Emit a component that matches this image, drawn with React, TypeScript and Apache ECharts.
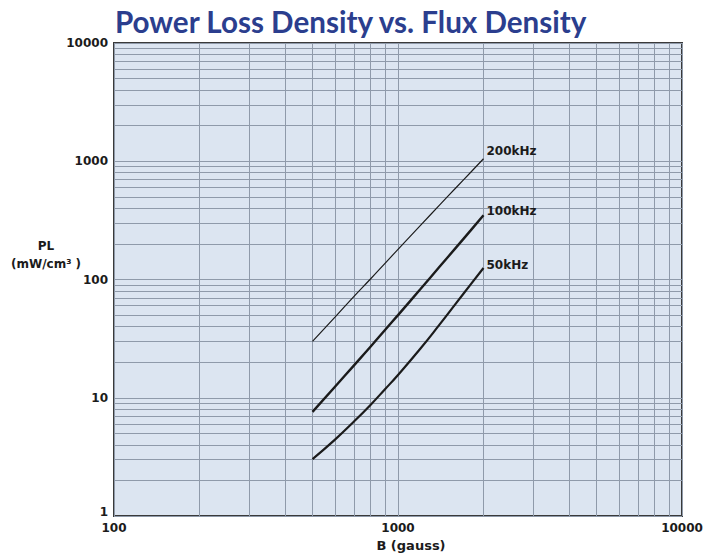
import React, { useEffect, useRef } from "react";
import * as echarts from "echarts";

// Flux density (gauss) sample points along the curves
const B_GAUSS = [500, 600, 700, 800, 900, 1000, 1200, 1400, 1600, 1800, 2000];
// Power loss density (mW/cm³) per frequency
const PL_200KHZ = [30, 48, 72, 101, 137, 180, 287, 425, 597, 803, 1050];
const PL_100KHZ = [7.6, 12.4, 18.8, 27, 37.4, 50, 83, 128, 186, 259, 350];
const PL_50KHZ = [3.03, 4.43, 6.3, 8.7, 11.8, 15.6, 26.1, 41.5, 62.8, 90.5, 125];
const SERIES_NAMES = ["200kHz", "100kHz", "50kHz"];

// Minor log grid lines
const MINOR_X = [200, 300, 400, 500, 600, 700, 800, 900, 2000, 3000, 4000, 5000, 6000, 7000, 8000, 9000];
const MINOR_Y = [
  2, 3, 4, 5, 6, 7, 8, 9,
  20, 30, 40, 50, 60, 70, 80, 90,
  200, 300, 400, 500, 600, 700, 800, 900,
  2000, 3000, 4000, 5000, 6000, 7000, 8000, 9000,
];

const TEXT_FONT = "DejaVu Sans";
const GRID_COLOR = "#8f9aaa";

export default function App() {
  const ref = useRef<HTMLDivElement>(null);

  useEffect(() => {
    document.body.style.margin = "0";
    if (!ref.current) return;
    const chart = echarts.init(ref.current, undefined, { renderer: "svg" });

    const pairs = (ys: number[]) => B_GAUSS.map((b, i) => [b, ys[i]]);
    const curveData = [PL_200KHZ, PL_100KHZ, PL_50KHZ];
    const widths = [1.2, 2.4, 2.2];
    const labelOffsets = [-8, -4, -3];

    const curveSeries = curveData.map((ys, i) => ({
      name: SERIES_NAMES[i],
      type: "line",
      data: pairs(ys),
      smooth: true,
      showSymbol: false,
      z: 10,
      lineStyle: { color: "#1b1b1b", width: widths[i] },
      endLabel: {
        show: true,
        formatter: "{a}",
        distance: 3,
        offset: [0, labelOffsets[i]],
        color: "#1b1b1b",
        fontFamily: TEXT_FONT,
        fontWeight: "bold",
        fontSize: 12,
      },
    }));

    const labelFont = {
      fontFamily: TEXT_FONT,
      fontWeight: "bold",
      fontSize: 12,
      color: "#1b1b1b",
    };

    const option: any = {
      animation: false,
      title: {
        text: "Power Loss Density vs. Flux Density",
        left: 110,
        top: 1,
        textStyle: {
          fontFamily: "Lato",
          fontWeight: "bold",
          fontSize: 29.6,
          color: "#2b3e8e",
        },
      },
      graphic: [
        {
          type: "text",
          x: 46,
          y: 255,
          silent: true,
          style: {
            text: "PL\n(mW/cm³ )",
            align: "center",
            verticalAlign: "middle",
            lineHeight: 18.6,
            fontFamily: TEXT_FONT,
            fontWeight: "bold",
            fontSize: 12,
            fill: "#1b1b1b",
          },
        },
      ],
      grid: {
        left: 114,
        right: 33,
        top: 43,
        bottom: 41,
        outerBoundsMode: "none",
        containLabel: false,
        show: true,
        backgroundColor: "#dce5f1",
        borderColor: "#3a3a3a",
        borderWidth: 2,
      },
      xAxis: {
        type: "log",
        logBase: 10,
        min: 100,
        max: 10000,
        name: "B (gauss)",
        nameLocation: "middle",
        nameGap: 21,
        nameTextStyle: {
          fontFamily: TEXT_FONT,
          fontWeight: "bold",
          fontSize: 13,
          color: "#1b1b1b",
          padding: [0, 0, 0, 26],
        },
        axisLine: { show: false },
        axisTick: { show: false },
        axisLabel: {
          margin: 6,
          ...labelFont,
          formatter: (v: number) => String(Math.round(v)),
        },
        splitLine: { show: true, lineStyle: { color: GRID_COLOR, width: 1 } },
      },
      yAxis: {
        type: "log",
        logBase: 10,
        min: 1,
        max: 10000,
        axisLine: { show: false },
        axisTick: { show: false },
        axisLabel: {
          margin: 6,
          ...labelFont,
          formatter: (v: number) => {
            const s = String(Math.round(v));
            return Math.round(v) === 1 ? "{low|" + s + "}" : s;
          },
          rich: {
            low: { ...labelFont, padding: [0, 0, 8, 0] },
          },
        },
        splitLine: { show: true, lineStyle: { color: GRID_COLOR, width: 1 } },
      },
      series: [
        {
          name: "minor-grid",
          type: "line",
          data: [],
          silent: true,
          markLine: {
            silent: true,
            z: 1,
            symbol: ["none", "none"],
            label: { show: false },
            lineStyle: { color: GRID_COLOR, width: 1, type: "solid" },
            emphasis: { disabled: true },
            data: [
              ...MINOR_X.map((v) => ({ xAxis: v })),
              ...MINOR_Y.map((v) => ({ yAxis: v })),
            ],
          },
        },
        ...curveSeries,
      ],
    };

    chart.setOption(option);
    return () => chart.dispose();
  }, []);

  return <div ref={ref} style={{ width: 715, height: 557 }} />;
}
